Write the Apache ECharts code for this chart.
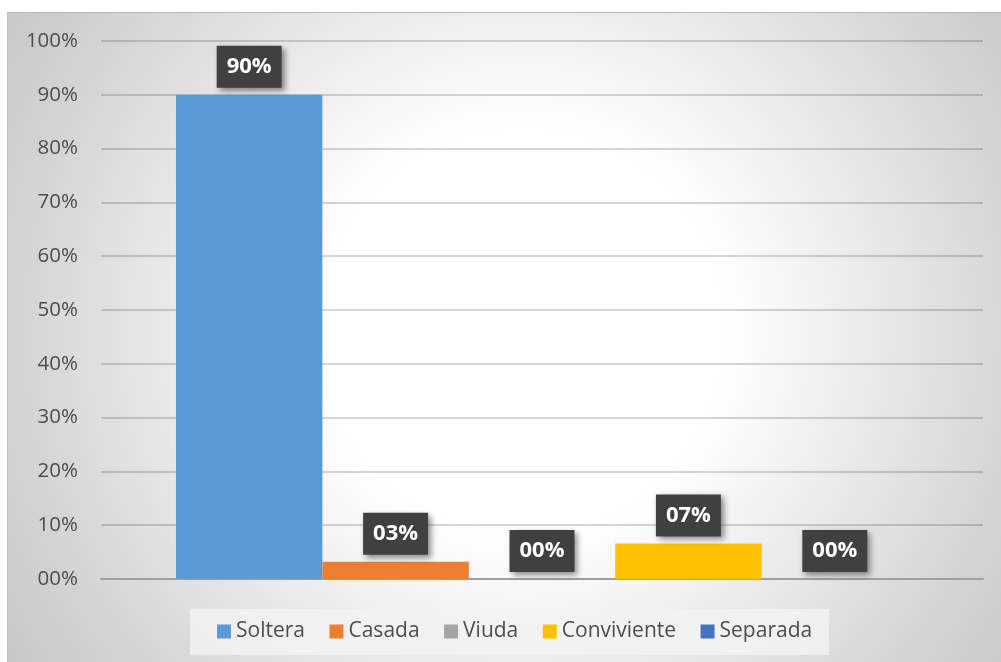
<!DOCTYPE html>
<html>
<head>
<meta charset="utf-8">
<script src="https://cdn.jsdelivr.net/npm/echarts@6/dist/echarts.min.js"></script>
<style>
  html, body { margin: 0; padding: 0; background: #ffffff; width: 1001px; height: 662px; overflow: hidden; }
  #box {
    position: absolute; left: 7px; top: 12px; width: 994px; height: 650px;
    border-top: 1px solid #b8b8b8; border-left: 1px solid #c0c0c0; box-sizing: border-box;
    background: radial-gradient(circle 640px at 513px 318px, #ffffff 0px, #ffffff 200px, #efefef 315px, #d5d5d5 495px, #c4c4c4 640px);
  }
  #chart { width: 100%; height: 100%; }
</style>
</head>
<body>
<div id="box"><div id="chart"></div></div>
<script>
const seriesNames = ['Soltera', 'Casada', 'Viuda', 'Conviviente', 'Separada'];
const seriesValues = [0.90, 0.032, 0.0, 0.066, 0.0];
const seriesColors = ['#5B9BD5', '#ED7D31', '#A5A5A5', '#FFC000', '#4472C4'];
const categories = [''];

function pct(v) {
  const n = Math.round(v * 100);
  return (n < 10 ? '0' + n : '' + n) + '%';
}

const chart = echarts.init(document.getElementById('chart'), null, { renderer: 'canvas' });
const font = '"Open Sans", "Noto Sans", sans-serif';

chart.setOption({
  backgroundColor: 'transparent',
  animation: false,
  textStyle: { fontFamily: font },
  grid: { left: 93, right: 18, top: 28, bottom: 83, containLabel: false },
  legend: {
    data: seriesNames,
    left: 182, top: 596,
    backgroundColor: 'rgba(242,242,242,0.8)',
    padding: [12, 17, 13, 27],
    itemWidth: 14, itemHeight: 14, itemGap: 24.5,
    icon: 'rect',
    textStyle: { color: '#4d4d4d', fontSize: 21, fontFamily: font }
  },
  xAxis: {
    type: 'category',
    data: categories,
    axisTick: { show: false },
    axisLabel: { show: false },
    axisLine: { show: true, lineStyle: { color: '#a0a0a0', width: 2 } }
  },
  yAxis: {
    type: 'value',
    min: 0, max: 1, interval: 0.1,
    axisLine: { show: false },
    axisTick: { show: false },
    axisLabel: { color: '#4d4d4d', fontSize: 20.5, margin: 23, fontFamily: font, formatter: v => pct(v) },
    splitLine: { lineStyle: { color: 'rgba(0,0,0,0.16)', width: 2 } }
  },
  series: seriesNames.map((name, i) => ({
    name: name,
    type: 'bar',
    data: [seriesValues[i]],
    barGap: '0%',
    barCategoryGap: '17%',
    itemStyle: { color: seriesColors[i] },
    label: {
      show: true,
      position: 'top',
      distance: 7,
      formatter: p => pct(p.value),
      color: '#ffffff',
      fontSize: 22,
      fontWeight: 'bold',
      fontFamily: font,
      lineHeight: 22,
      backgroundColor: '#404040',
      padding: [10, 10, 10, 10],
      shadowColor: 'rgba(0,0,0,0.45)',
      shadowBlur: 6,
      shadowOffsetX: 3,
      shadowOffsetY: 3
    }
  }))
});
</script>
</body>
</html>
